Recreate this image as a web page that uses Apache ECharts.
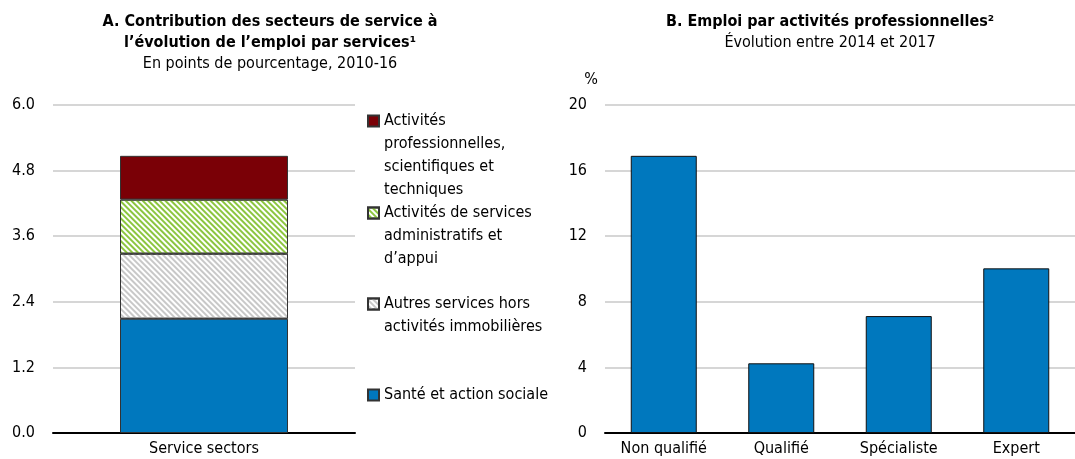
<!DOCTYPE html>
<html>
<head>
<meta charset="utf-8">
<script src="https://cdn.jsdelivr.net/npm/echarts@6/dist/echarts.min.js"></script>
<style>
  html, body { margin: 0; padding: 0; background: #fff; }
  #chart { width: 1075px; height: 459px; }
</style>
</head>
<body>
<div id="chart"></div>
<script>
const FONT = '"Liberation Sans Narrow", "Arial Narrow", "DejaVu Sans Condensed", sans-serif'

// panel A
const sectorCats = ['Service sectors']
const santeVals = [2.09]
const autresVals = [1.19]
const adminVals = [0.99]
const profVals = [0.80]
const yTicksA = [0, 1.2, 2.4, 3.6, 4.8, 6.0]

// panel B
const occCats = ['Non qualifié', 'Qualifié', 'Spécialiste', 'Expert']
const occVals = [16.9, 4.25, 7.13, 10.04]
const yTicksB = [0, 4, 8, 12, 16, 20]

const names = {
  prof: 'Activités\nprofessionnelles,\nscientifiques et\ntechniques',
  admin: 'Activités de services\nadministratifs et\nd\u2019appui',
  autres: 'Autres services hors\nactivités immobilières',
  sante: 'Santé et action sociale'
}

const LH = 23
// one legend per item; blank lines on top keep the icon level with the first line
function legendFor (name, yCenter) {
  const n = name.split('\n').length
  return {
    data: [name],
    left: 367,
    top: yCenter - (2 * n - 1) * LH / 2,
    padding: 0,
    itemWidth: 11,
    itemHeight: 11,
    icon: 'rect',
    selectedMode: false,
    formatter: (s) => ' \n'.repeat(n - 1) + s,
    textStyle: { fontFamily: FONT, fontSize: 16, color: '#000', lineHeight: LH }
  }
}

const axisText = { color: '#000', fontFamily: FONT, fontSize: 16 }
const border = { borderColor: '#333', borderWidth: 1 }
const hatch = (c) => ({ symbol: 'rect', symbolSize: 1, color: c, dashArrayX: [1, 0], dashArrayY: [2, 2], rotation: Math.PI / 4 })

const chart = echarts.init(document.getElementById('chart'))
chart.setOption({
  animation: false,
  textStyle: { fontFamily: FONT },
  title: [
    {
      text: 'A. Contribution des secteurs de service à\nl\u2019évolution de l\u2019emploi par services\u00b9',
      subtext: 'En points de pourcentage, 2010-16',
      left: 270, top: 11, textAlign: 'center', padding: 0, itemGap: 0,
      textStyle: { fontFamily: FONT, fontSize: 16, fontWeight: 'bold', color: '#000', lineHeight: 21 },
      subtextStyle: { fontFamily: FONT, fontSize: 16, color: '#000', lineHeight: 21 }
    },
    {
      text: 'B. Emploi par activités professionnelles\u00b2',
      subtext: 'Évolution entre 2014 et 2017',
      left: 830, top: 11, textAlign: 'center', padding: 0, itemGap: 0,
      textStyle: { fontFamily: FONT, fontSize: 16, fontWeight: 'bold', color: '#000', lineHeight: 21 },
      subtextStyle: { fontFamily: FONT, fontSize: 16, color: '#000', lineHeight: 21 }
    }
  ],
  legend: [
    legendFor(names.prof, 121),
    legendFor(names.admin, 213),
    legendFor(names.autres, 304),
    legendFor(names.sante, 395)
  ],
  grid: [
    { left: 53, right: 720, top: 105, bottom: 26 },
    { left: 605, right: -7, top: 105, bottom: 26 }
  ],
  xAxis: [
    {
      type: 'category', gridIndex: 0, data: sectorCats,
      axisLine: { lineStyle: { color: '#000', width: 2 } },
      axisTick: { inside: true, length: 5, lineStyle: { color: '#000', width: 1.5 } },
      axisLabel: { ...axisText, margin: 8 }
    },
    {
      type: 'category', gridIndex: 1, data: occCats,
      axisLine: { lineStyle: { color: '#000', width: 2 } },
      axisTick: { inside: true, length: 5, lineStyle: { color: '#000', width: 1.5 } },
      axisLabel: { ...axisText, margin: 8 }
    }
  ],
  yAxis: [
    {
      type: 'value', gridIndex: 0, min: yTicksA[0], max: yTicksA[yTicksA.length - 1], interval: 1.2,
      axisLine: { show: false }, axisTick: { show: false },
      axisLabel: { ...axisText, margin: 18, formatter: (v) => v.toFixed(1) },
      splitLine: { lineStyle: { color: '#c8c8c8', width: 1.5 } }
    },
    {
      type: 'value', gridIndex: 1, min: yTicksB[0], max: yTicksB[yTicksB.length - 1], interval: 4,
      name: '%', nameLocation: 'end', nameGap: 17,
      nameTextStyle: { ...axisText, align: 'right', padding: [0, 7, 0, 0] },
      axisLine: { show: false }, axisTick: { show: false },
      axisLabel: { ...axisText, margin: 18 },
      splitLine: { lineStyle: { color: '#c8c8c8', width: 1.5 } }
    }
  ],
  series: [
    {
      name: names.sante, type: 'bar', stack: 'a', xAxisIndex: 0, yAxisIndex: 0, barWidth: 168,
      data: santeVals, itemStyle: { color: '#0078be', ...border }
    },
    {
      name: names.autres, type: 'bar', stack: 'a', xAxisIndex: 0, yAxisIndex: 0, barWidth: 168,
      data: autresVals, itemStyle: { color: '#ffffff', ...border, decal: hatch('#c8c8c8') }
    },
    {
      name: names.admin, type: 'bar', stack: 'a', xAxisIndex: 0, yAxisIndex: 0, barWidth: 168,
      data: adminVals, itemStyle: { color: '#ffffff', ...border, decal: hatch('#8cc63f') }
    },
    {
      name: names.prof, type: 'bar', stack: 'a', xAxisIndex: 0, yAxisIndex: 0, barWidth: 168,
      data: profVals, itemStyle: { color: '#7a0006', ...border }
    },
    {
      name: 'Emploi', type: 'bar', xAxisIndex: 1, yAxisIndex: 1, barWidth: 66,
      data: occVals, itemStyle: { color: '#0078be', borderColor: '#111', borderWidth: 1 }
    }
  ]
})
</script>
</body>
</html>
